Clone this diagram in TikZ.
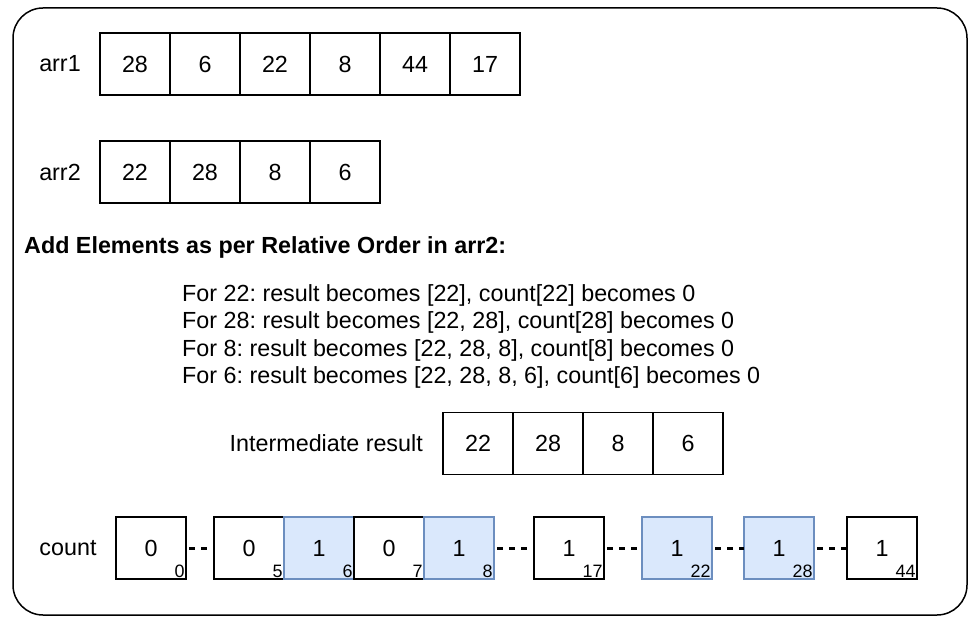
\documentclass[tikz,border=0pt]{standalone}
\usepackage{fontspec}
\setmainfont{Liberation Sans}
\usepackage{tikz}
\frenchspacing

\definecolor{hitfill}{HTML}{DAE8FC}
\definecolor{hitline}{HTML}{6C8EBF}

\newcommand\txtfont{\fontsize{23.4}{27.4}\selectfont}
\newcommand\idxfont{\fontsize{18}{18}\selectfont}

\tikzset{
  cell/.style={draw, line width=1.2bp, minimum width=70bp, minimum height=62bp, inner sep=0pt, outer sep=0pt},
  cntcell/.style={cell, text height=17bp, text depth=0bp},
  hitcell/.style={cntcell, draw=hitline, fill=hitfill},
  idx/.style={anchor=south east, inner sep=1.2bp, font=\idxfont},
  lbl/.style={inner sep=0pt},
  gap/.style={line width=3bp, dash pattern=on 6bp off 6bp, dash phase=9bp}
}

\begin{document}
\begin{tikzpicture}[x=1bp, y=-1bp, font=\txtfont]

  \newcommand\X{70}

  \useasboundingbox (0,0) rectangle (976,624);
  \draw[line width=1.5bp, rounded corners=30bp] (13,8) rectangle (967,615); %% frame

  %% arr1
  \node[lbl] (arrA) at (60,64) {arr1};
  \node[cell] (a0) at (135+0*\X,64) {28};
  \node[cell] (a1) at (135+1*\X,64) {6};
  \node[cell] (a2) at (135+2*\X,64) {22};
  \node[cell] (a3) at (135+3*\X,64) {8};
  \node[cell] (a4) at (135+4*\X,64) {44};
  \node[cell] (a5) at (135+5*\X,64) {17};

  %% arr2
  \node[lbl] (arrB) at (60,172) {arr2};
  \node[cell] (b0) at (135+0*\X,172) {22};
  \node[cell] (b1) at (135+1*\X,172) {28};
  \node[cell] (b2) at (135+2*\X,172) {8};
  \node[cell] (b3) at (135+3*\X,172) {6};

  \node[lbl, anchor=west, font=\txtfont\bfseries] (head) at (24,247) {Add Elements as per Relative Order in arr2:};

  \node[lbl, anchor=west] (stepA) at (182,295) {For 22: result becomes [22], count[22] becomes 0};
  \node[lbl, anchor=west] (stepB) at (182,322) {For 28: result becomes [22, 28], count[28] becomes 0};
  \node[lbl, anchor=west] (stepC) at (182,350) {For 8: result becomes [22, 28, 8], count[8] becomes 0};
  \node[lbl, anchor=west] (stepD) at (182,377) {For 6: result becomes [22, 28, 8, 6], count[6] becomes 0};

  %% intermediate result
  \node[lbl, anchor=east] (inter) at (423,443) {Intermediate result};
  \node[cell] (r0) at (478+0*\X,443.5) {22};
  \node[cell] (r1) at (478+1*\X,443.5) {28};
  \node[cell] (r2) at (478+2*\X,443.5) {8};
  \node[cell] (r3) at (478+3*\X,443.5) {6};

  %% count
  \node[lbl] (cnt) at (68,548) {count};
  \node[cntcell] (c0) at (151,548) {0};
  \node[cntcell] (c5) at (249,548) {0};
  \node[hitcell] (c6) at (249+1*\X,548) {1};
  \node[cntcell] (c7) at (249+2*\X,548) {0};
  \node[hitcell] (c8) at (249+3*\X,548) {1};
  \node[cntcell] (c17) at (569,548) {1};
  \node[hitcell] (c22) at (677,548) {1};
  \node[hitcell] (c28) at (779,548) {1};
  \node[cntcell] (c44) at (882,548) {1};

  \node[idx] (i0) at (c0.south east) {0};
  \node[idx] (i5) at (c5.south east) {5};
  \node[idx] (i6) at (c6.south east) {6};
  \node[idx] (i7) at (c7.south east) {7};
  \node[idx] (i8) at (c8.south east) {8};
  \node[idx] (i17) at (c17.south east) {17};
  \node[idx] (i22) at (c22.south east) {22};
  \node[idx] (i28) at (c28.south east) {28};
  \node[idx] (i44) at (c44.south east) {44};

  \draw[gap] (c0) -- (c5); %% 0..5
  \draw[gap] (c8) -- (c17); %% 8..17
  \draw[gap] (c17) -- (c22); %% 17..22
  \draw[gap] (c22) -- (c28); %% 22..28
  \draw[gap] (c28) -- (c44); %% 28..44

\end{tikzpicture}
\end{document}
